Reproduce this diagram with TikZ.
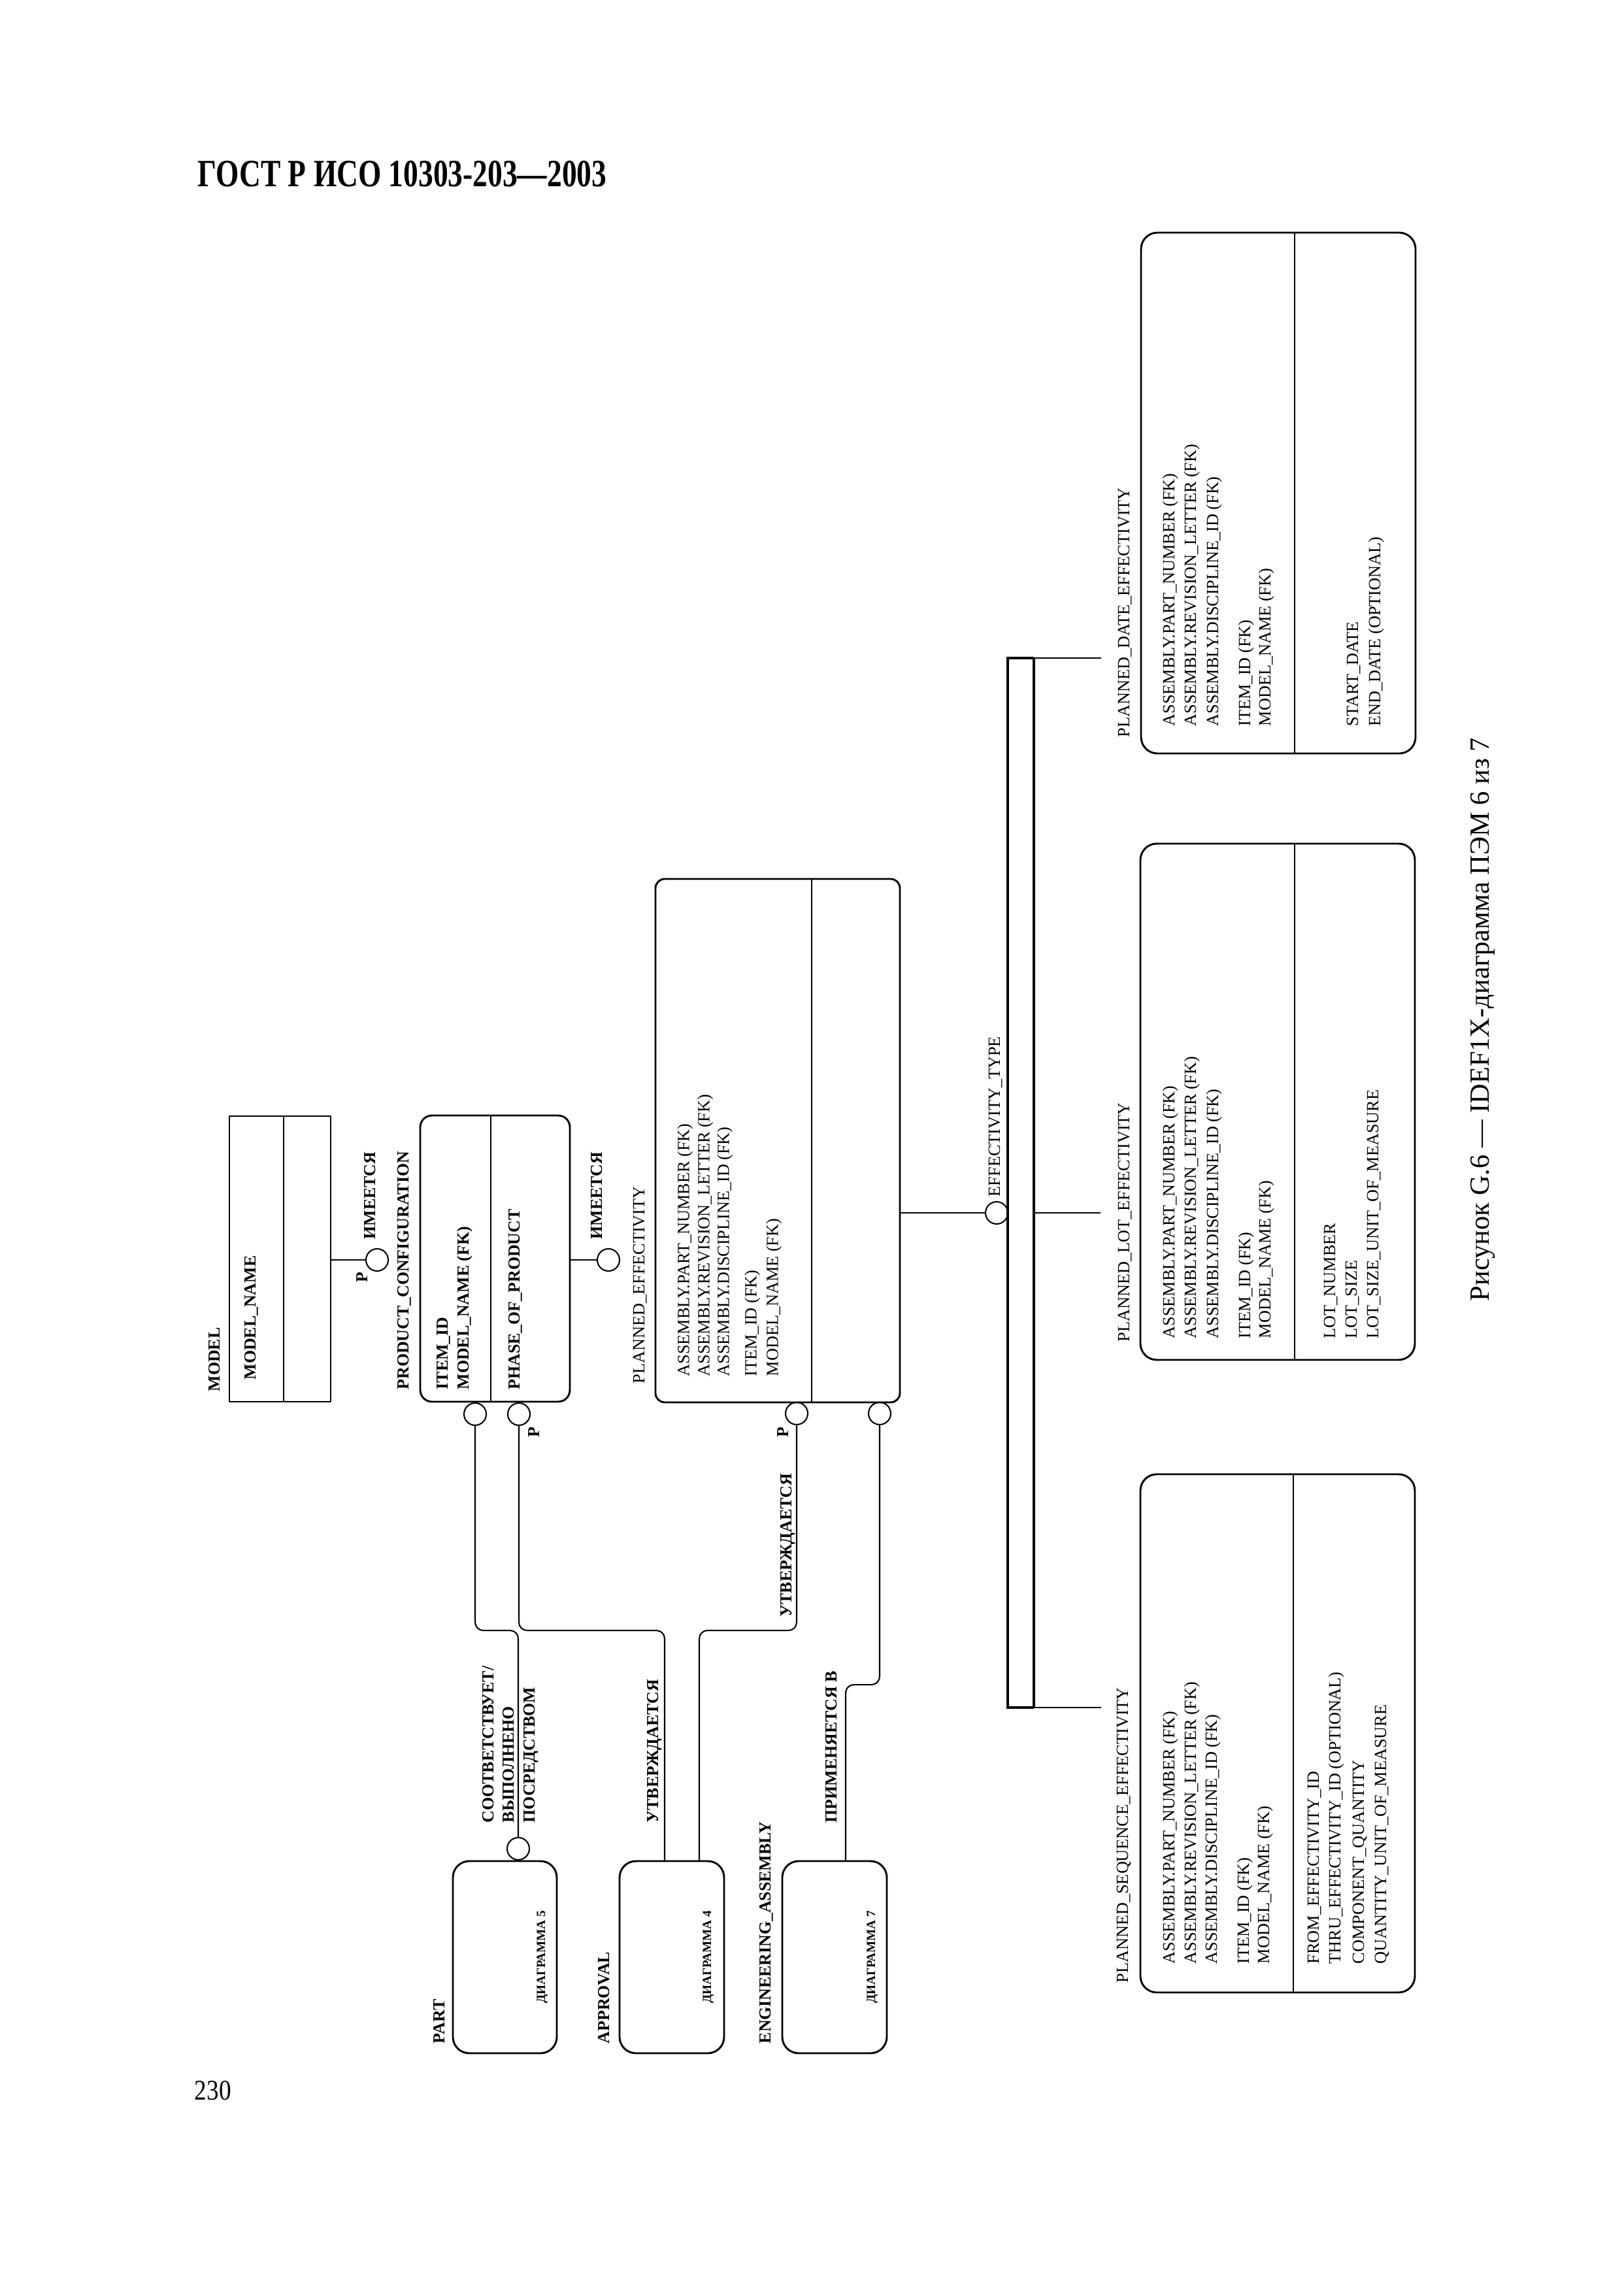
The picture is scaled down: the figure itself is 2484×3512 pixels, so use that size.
\documentclass[tikz,border=0pt]{standalone}
\usepackage{fontspec}
\setmainfont{Liberation Serif}
\begin{document}
\begin{tikzpicture}[x=0.24pt,y=-0.24pt,
  entbox/.style={draw, line width=0.7pt, inner sep=0pt, rectangle},
  div/.style={line width=0.5pt},
  conn/.style={line width=0.5pt},
  bus/.style={line width=0.85pt, line join=miter},
  circ/.style={draw, circle, line width=0.5pt, minimum size=8.16pt, inner sep=0pt},
  vt/.style={rotate=90, anchor=base west, inner sep=0pt, font=\fontsize{6.3}{7}\selectfont},
  vb/.style={rotate=90, anchor=base west, inner sep=0pt, font=\fontsize{6.2}{7}\selectfont\bfseries},
  dg/.style={rotate=90, anchor=base, inner sep=0pt, font=\fontsize{4.6}{5}\selectfont\bfseries},
]
\fill[white] (0,0) rectangle (2484,3512);
\useasboundingbox (0,0) rectangle (2484,3512);

% header, page number, caption
\node[anchor=base west, inner sep=0pt, font=\fontsize{14.2}{16}\selectfont\bfseries] (title) at (302,285) {\scalebox{0.768}[1]{ГОСТ Р ИСО 10303-203—2003}};
\node[anchor=base west, inner sep=0pt, font=\fontsize{10.5}{12}\selectfont] (pageno) at (297,3213) {\scalebox{0.85}[1]{230}};
\node[rotate=90, anchor=base, inner sep=0pt, font=\fontsize{10.2}{12}\selectfont] (caption) at (2278,1560) {Рисунок G.6 — IDEF1X-диаграмма ПЭМ 6 из 7};

% ---------- entities ----------
\node[entbox, minimum width=155*0.24pt, minimum height=437*0.24pt] (model) at (428.5,1926.5) {};
\draw[div] (434,1708) -- (434,2145);
\node[entbox, rounded corners=4.3pt, minimum width=229*0.24pt, minimum height=438*0.24pt] (pc) at (757.5,1926) {};
\draw[div] (751,1707) -- (751,2145);
\node[entbox, rounded corners=3.4pt, minimum width=374*0.24pt, minimum height=801*0.24pt] (pe) at (1190,1745.5) {};
\draw[div] (1242,1345) -- (1242,2146);
\node[entbox, rounded corners=6pt, minimum width=420*0.24pt, minimum height=797*0.24pt] (pde) at (1956,754.5) {};
\draw[div] (1981,356) -- (1981,1153);
\node[entbox, rounded corners=6pt, minimum width=420*0.24pt, minimum height=790*0.24pt] (plot) at (1955,1686) {};
\draw[div] (1981,1291) -- (1981,2081);
\node[entbox, rounded corners=6pt, minimum width=420*0.24pt, minimum height=793*0.24pt] (pse) at (1955,2652.5) {};
\draw[div] (1979,2256) -- (1979,3049);
\node[entbox, rounded corners=6pt, minimum width=159*0.24pt, minimum height=294*0.24pt] (part) at (772.5,2995) {};
\node[entbox, rounded corners=6pt, minimum width=160*0.24pt, minimum height=294*0.24pt] (appr) at (1028,2995) {};
\node[entbox, rounded corners=6pt, minimum width=160*0.24pt, minimum height=294*0.24pt] (ea) at (1277,2995) {};

% ---------- entity texts ----------
\node[vb] (tModel) at (336.5,2130) {MODEL};
\node[vb] (tModelName) at (391.5,2112) {MODEL\_NAME};

\node[vb] (tPC) at (625.5,2127) {PRODUCT\_CONFIGURATION};
\node[vb] (tPC1) at (685.5,2127) {ITEM\_ID};
\node[vb] (tPC2) at (717.5,2127) {MODEL\_NAME (FK)};
\node[vb] (tPC3) at (795.5,2127) {PHASE\_OF\_PRODUCT};

\node[vt] (tPE) at (986,2118) {PLANNED\_EFFECTIVITY};
\node[vt] (tPE1) at (1054.5,2107) {ASSEMBLY.PART\_NUMBER (FK)};
\node[vt] (tPE2) at (1085.5,2107) {ASSEMBLY.REVISION\_LETTER (FK)};
\node[vt] (tPE3) at (1115.5,2107) {ASSEMBLY.DISCIPLINE\_ID (FK)};
\node[vt] (tPE4) at (1157.5,2107) {ITEM\_ID (FK)};
\node[vt] (tPE5) at (1190.5,2107) {MODEL\_NAME (FK)};

\node[vt] (tPDE) at (1728,1129) {PLANNED\_DATE\_EFFECTIVITY};
\node[vt] (tPDE1) at (1797,1112) {ASSEMBLY.PART\_NUMBER (FK)};
\node[vt] (tPDE2) at (1830,1112) {ASSEMBLY.REVISION\_LETTER (FK)};
\node[vt] (tPDE3) at (1864,1112) {ASSEMBLY.DISCIPLINE\_ID (FK)};
\node[vt] (tPDE4) at (1913,1112) {ITEM\_ID (FK)};
\node[vt] (tPDE5) at (1944,1112) {MODEL\_NAME (FK)};
\node[vt] (tPDE6) at (2078,1112) {START\_DATE};
\node[vt] (tPDE7) at (2112,1112) {END\_DATE (OPTIONAL)};

\node[vt] (tPLOT) at (1728,2054) {PLANNED\_LOT\_EFFECTIVITY};
\node[vt] (tPLOT1) at (1797,2049) {ASSEMBLY.PART\_NUMBER (FK)};
\node[vt] (tPLOT2) at (1830,2049) {ASSEMBLY.REVISION\_LETTER (FK)};
\node[vt] (tPLOT3) at (1864,2049) {ASSEMBLY.DISCIPLINE\_ID (FK)};
\node[vt] (tPLOT4) at (1913,2049) {ITEM\_ID (FK)};
\node[vt] (tPLOT5) at (1944,2049) {MODEL\_NAME (FK)};
\node[vt] (tPLOT6) at (2043,2049) {LOT\_NUMBER};
\node[vt] (tPLOT7) at (2076,2049) {LOT\_SIZE};
\node[vt] (tPLOT8) at (2109,2049) {LOT\_SIZE\_UNIT\_OF\_MEASURE};

\node[vt] (tPSE) at (1726,3035) {PLANNED\_SEQUENCE\_EFFECTIVITY};
\node[vt] (tPSE1) at (1797,3006) {ASSEMBLY.PART\_NUMBER (FK)};
\node[vt] (tPSE2) at (1830,3006) {ASSEMBLY.REVISION\_LETTER (FK)};
\node[vt] (tPSE3) at (1862,3006) {ASSEMBLY.DISCIPLINE\_ID (FK)};
\node[vt] (tPSE4) at (1911,3006) {ITEM\_ID (FK)};
\node[vt] (tPSE5) at (1942,3006) {MODEL\_NAME (FK)};
\node[vt] (tPSE6) at (2018,3006) {FROM\_EFFECTIVITY\_ID};
\node[vt] (tPSE7) at (2051,3006) {THRU\_EFFECTIVITY\_ID (OPTIONAL)};
\node[vt] (tPSE8) at (2087,3006) {COMPONENT\_QUANTITY};
\node[vt] (tPSE9) at (2121,3006) {QUANTITY\_UNIT\_OF\_MEASURE};

\node[vb] (tPart) at (680,3128) {PART};
\node[vb] (tAppr) at (932,3128) {APPROVAL};
\node[vb] (tEA) at (1179,3128) {ENGINEERING\_ASSEMBLY};
\node[dg] (dPart) at (834,2995) {ДИАГРАММА 5};
\node[dg] (dAppr) at (1088,2995) {ДИАГРАММА 4};
\node[dg] (dEA) at (1339,2995) {ДИАГРАММА 7};

% ---------- relationships ----------
\node[circ] (m2pc) at (577,1928) {};
\draw[conn] (m2pc -| model.east) -- (m2pc.west);
\node[vb] (rM1) at (574.5,1897) {ИМЕЕТСЯ};
\node[vb] (rM2) at (562.5,1963) {P};

\node[circ] (pc2pe) at (931,1928) {};
\draw[conn] (pc2pe -| pc.east) -- (pc2pe.west);
\node[vb] (rP1) at (921.5,1897) {ИМЕЕТСЯ};

\node[circ] (etC) at (1525,1856) {};
\draw[conn] (etC -| pe.east) -- (etC.west);
\node[vt] (tET) at (1530,1832) {EFFECTIVITY\_TYPE};

% subtype bus
\coordinate (busLT) at (1542,1007);
\coordinate (busRT) at (1582,1007);
\coordinate (busLB) at (1542,2613);
\coordinate (busRB) at (1582,2613);
\coordinate (plotJ) at (1582,1856);
\coordinate (pdeEnd) at (1685,1007);
\coordinate (plotEnd) at (1684,1856);
\coordinate (pseEnd) at (1685,2613);
\draw[bus] (busRT) -- (busLT) -- (busLB) -- (busRB);
\draw[bus] (busRT) -- (busRB);
\draw[conn] (busRT) -- (pdeEnd);
\draw[conn] (plotJ) -- (plotEnd);
\draw[conn] (busRB) -- (pseEnd);

% lower relationships
\node[circ] (pcA) at (727,2164) {};
\node[circ] (pcB) at (794,2164) {};
\node[circ] (peA) at (1219,2163) {};
\node[circ] (peB) at (1346,2163) {};
\node[circ] (partC) at (793,2829) {};
\coordinate (apIn1) at (1017,2848);
\coordinate (apIn2) at (1070,2848);
\coordinate (eaIn) at (1294,2848);

\draw[conn, rounded corners=3pt] (pcA.south) -- ++(0,313) -| (partC.north);
\draw[conn, rounded corners=3pt] (pcB.south) -- ++(0,313) -| (apIn1);
\draw[conn, rounded corners=3pt] (peA.south) -- ++(0,314) -| (apIn2);
\draw[conn, rounded corners=3pt] (peB.south) -- ++(0,397) -| (eaIn);

\node[vb] (rPB) at (825,2200) {P};
\node[vb] (rPEA) at (1206,2200) {P};

\node[vb] (rS1) at (755,2790) {СООТВЕТСТВУЕТ/};
\node[vb] (rS2) at (786,2790) {ВЫПОЛНЕНО};
\node[vb] (rS3) at (818,2790) {ПОСРЕДСТВОМ};
\node[vb] (rU1) at (1007,2790) {УТВЕРЖДАЕТСЯ};
\node[vb] (rU2) at (1211,2475) {УТВЕРЖДАЕТСЯ};
\node[vb] (rA) at (1280,2790) {ПРИМЕНЯЕТСЯ В};
\end{tikzpicture}
\end{document}
